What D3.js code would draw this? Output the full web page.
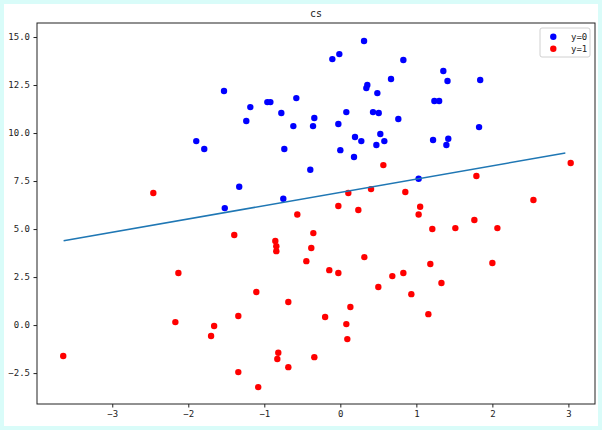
<!DOCTYPE html>
<meta charset="utf-8">
<style>
body { margin: 0; background: #d9fcf9; }
svg { display: block; }
text { font-family: "DejaVu Sans Mono", monospace; fill: #222; }
</style>
<body>
<div id="chart"></div>
<script src="https://d3js.org/d3.v7.min.js"></script>
<script>
// class y=0 points
var blueX = [-1.53, -1.895, -1.79, -1.52, 0.312, -0.105, -0.013, 0.829, 0.667, 0.355, 0.342, 0.487,
  -1.184, -0.579, -0.96, -0.92, -1.237, -0.776, -0.342, -0.618, -0.359, 0.079, -0.026, 0.43, 0.505,
  0.763, 0.526, 0.193, 0.276, 0.579, 0.474, -0.737, 0.0, 0.18, -0.395, -1.33, -0.75,
  1.355, 1.41, 1.84, 1.237, 1.3, 1.825, 1.22, 1.42, 1.395, 1.03];
var blueY = [12.19, 9.58, 9.17, 6.09, 14.79, 13.85, 14.11, 13.80, 12.81, 12.5, 12.34, 12.08,
  11.35, 11.82, 11.61, 11.61, 10.625, 11.04, 10.78, 10.36, 10.36, 11.09, 10.47, 11.09, 11.04,
  10.73, 9.95, 9.79, 9.58, 9.58, 9.375, 9.17, 9.11, 8.75, 8.09, 7.2, 6.58,
  13.23, 12.71, 12.76, 11.67, 11.67, 10.31, 9.64, 9.7, 9.375, 7.62];

// class y=1 points
var redX = [-2.46, 0.566, 0.105, 0.404, 0.855, -0.026, 0.237, 1.79, 3.03, 2.54, 1.05,
  -2.13, -2.17, -1.66, -1.70, -3.645,
  -0.566, -1.395, -0.855, -0.842, -0.842, -0.355, -0.382, -0.447, -0.145, -0.026, 0.316, 0.5,
  0.684, 0.829, 0.934, -1.105, -0.684, 0.132, -1.342, -0.2, 0.079, 0.092, -0.816, -0.829,
  -0.342, -0.684, -1.342, -1.08,
  1.03, 1.21, 1.513, 1.763, 2.066, 1.184, 2.0, 1.33, 1.158];
var redY = [6.875, 8.33, 6.875, 7.08, 6.93, 6.2, 5.99, 7.76, 8.44, 6.51, 6.16,
  2.71, 0.156, -0.05, -0.57, -1.61,
  5.76, 4.69, 4.375, 4.11, 3.85, 4.79, 4.01, 3.33, 2.86, 2.71, 3.54, 1.98,
  2.55, 2.71, 1.61, 1.72, 1.2, 0.94, 0.47, 0.417, 0.05, -0.73, -1.44, -1.77,
  -1.67, -2.19, -2.45, -3.23,
  5.76, 5.0, 5.05, 5.47, 5.05, 3.18, 3.23, 2.19, 0.57];

// decision boundary
var lineX = [-3.64, 2.96];
var lineY = [4.39, 8.96];

var xTicks = [-3, -2, -1, 0, 1, 2, 3];
var yTicks = [-2.5, 0, 2.5, 5, 7.5, 10, 12.5, 15];
var legendLabels = ["y=0", "y=1"];
var colors = ["#0000ff", "#ff0000"];

var W = 602, H = 430;
var pLeft = 37, pTop = 23, pRight = 595, pBottom = 404;

var svg = d3.select("#chart").append("svg").attr("width", W).attr("height", H);

svg.append("rect").attr("x", 4).attr("y", 4).attr("width", W - 8).attr("height", H - 8)
  .attr("fill", "#fff");

var x = d3.scaleLinear().domain([-3.99, 3.35]).range([pLeft, pRight]);
var y = d3.scaleLinear().domain([-4.11, 15.73]).range([pBottom, pTop]);

// axes
var xAxis = svg.append("g").attr("transform", "translate(0," + pBottom + ")")
  .call(d3.axisBottom(x).tickValues(xTicks).tickSize(3.5).tickPadding(3.5).tickFormat(d3.format("d")));
var yAxis = svg.append("g").attr("transform", "translate(" + pLeft + ",0)")
  .call(d3.axisLeft(y).tickValues(yTicks).tickSize(3.5).tickPadding(3.5).tickFormat(d3.format(".1f")));
[xAxis, yAxis].forEach(function(a) {
  a.select(".domain").remove();
  a.selectAll("line").attr("stroke", "#222");
  a.selectAll("text").attr("font-size", 9).attr("fill", "#222")
    .style("font-family", '"DejaVu Sans Mono", monospace');
});

// points
function drawPoints(xs, ys, c) {
  svg.append("g").selectAll("circle")
    .data(xs.map(function(v, i) { return [v, ys[i]]; }))
    .enter().append("circle")
    .attr("cx", function(d) { return x(d[0]); })
    .attr("cy", function(d) { return y(d[1]); })
    .attr("r", 3.2)
    .attr("fill", c);
}
drawPoints(blueX, blueY, colors[0]);
drawPoints(redX, redY, colors[1]);

svg.append("path")
  .datum(lineX.map(function(v, i) { return [v, lineY[i]]; }))
  .attr("fill", "none").attr("stroke", "#1f77b4").attr("stroke-width", 1.5)
  .attr("d", d3.line().x(function(d) { return x(d[0]); }).y(function(d) { return y(d[1]); }));

// frame
svg.append("rect").attr("x", pLeft).attr("y", pTop)
  .attr("width", pRight - pLeft).attr("height", pBottom - pTop)
  .attr("fill", "none").attr("stroke", "#222").attr("stroke-width", 1);

// title
svg.append("text").attr("x", (pLeft + pRight) / 2).attr("y", 17)
  .attr("text-anchor", "middle").attr("font-size", 10).text("cs");

// legend
var lg = svg.append("g");
lg.append("rect").attr("x", 540).attr("y", 28).attr("width", 50).attr("height", 29)
  .attr("rx", 2).attr("fill", "#fff").attr("fill-opacity", 0.8)
  .attr("stroke", "#d0d0d0").attr("stroke-width", 1);
legendLabels.forEach(function(t, i) {
  lg.append("circle").attr("cx", 553.3).attr("cy", 36.7 + i * 12).attr("r", 3.2).attr("fill", colors[i]);
  lg.append("text").attr("x", 571).attr("y", 36.7 + i * 12 + 3.3)
    .attr("font-size", 9).text(t);
});
</script>
</body>
